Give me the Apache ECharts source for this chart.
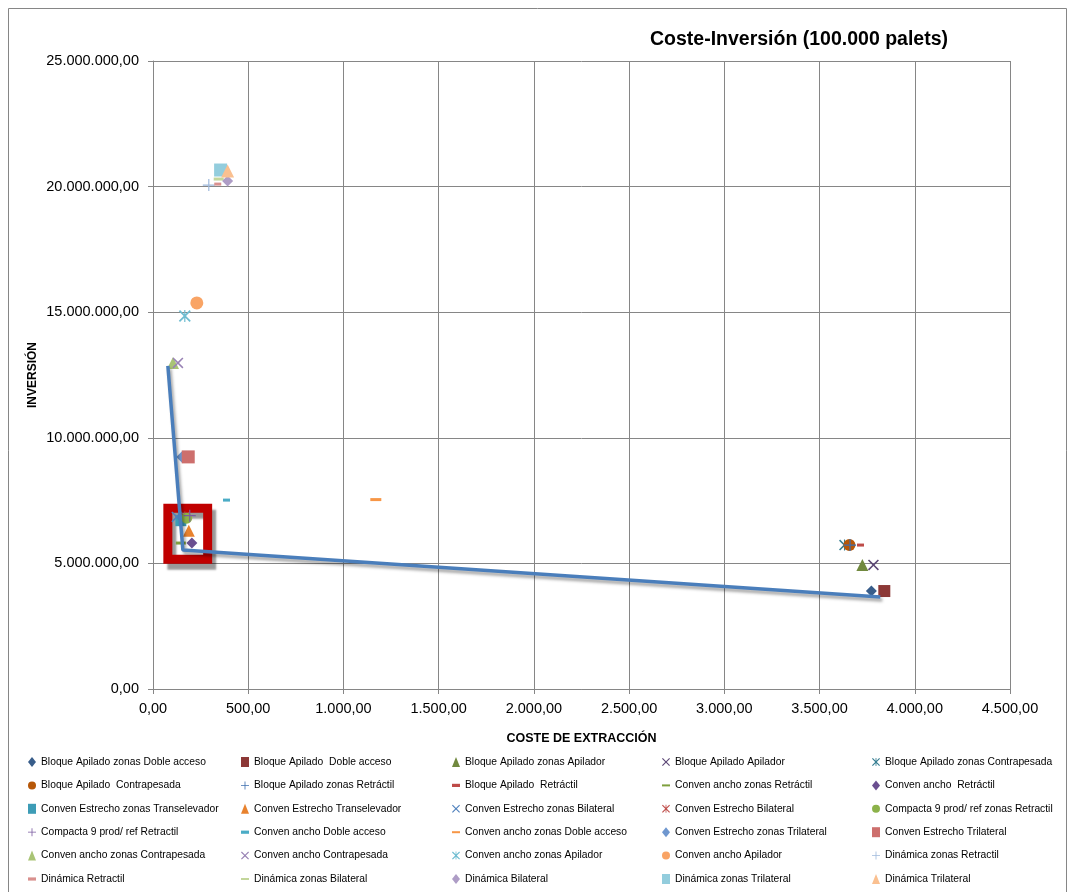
<!DOCTYPE html>
<html>
<head>
<meta charset="utf-8">
<title>Coste-Inversión (100.000 palets)</title>
<script src="https://cdn.jsdelivr.net/npm/echarts@6/dist/echarts.min.js"></script>
<style>
  html, body { margin: 0; padding: 0; background: #ffffff; }
  #chart { width: 1069px; height: 892px; }
</style>
</head>
<body>
<div id="chart"></div>
<script>
// ---- data ----
const seriesNames = [
  'Bloque Apilado zonas Doble acceso', 'Bloque Apilado  Doble acceso', 'Bloque Apilado zonas Apilador',
  'Bloque Apilado Apilador', 'Bloque Apilado zonas Contrapesada', 'Bloque Apilado  Contrapesada',
  'Bloque Apilado zonas Retráctil', 'Bloque Apilado  Retráctil', 'Conven ancho zonas Retráctil',
  'Conven ancho  Retráctil', 'Conven Estrecho zonas Transelevador', 'Conven Estrecho Transelevador',
  'Conven Estrecho zonas Bilateral', 'Conven Estrecho Bilateral', 'Compacta 9 prod/ ref zonas Retractil',
  'Compacta 9 prod/ ref Retractil', 'Conven ancho Doble acceso', 'Conven ancho zonas Doble acceso',
  'Conven Estrecho zonas Trilateral', 'Conven Estrecho Trilateral', 'Conven ancho zonas Contrapesada',
  'Conven ancho Contrapesada', 'Conven ancho zonas Apilador', 'Conven ancho Apilador',
  'Dinámica zonas Retractil', 'Dinámica Retractil', 'Dinámica zonas Bilateral',
  'Dinámica Bilateral', 'Dinámica zonas Trilateral', 'Dinámica Trilateral'
];
// coste de extracción per series
const costeExtraccion = [
  3772, 3840, 3725, 3783, 3631, 3657, 3660, 3715, 146, 204,
  146, 188, 125, 167, 177, 193, 386, 1170, 151, 185,
  105, 131, 167, 230, 293, 340, 345, 392, 355, 392
];
// inversión per series
const inversion = [
  3900000, 3900000, 4940000, 4940000, 5730000, 5730000, 5730000, 5730000, 5810000, 5810000,
  6700000, 6300000, 6850000, 6850000, 6800000, 6900000, 7520000, 7540000, 9240000, 9240000,
  12980000, 12980000, 14850000, 15370000, 20060000, 20100000, 20300000, 20220000, 20660000, 20620000
];
// trend line through the point cloud
const trendX = [78, 157, 3819];
const trendY = [12860000, 5530000, 3660000];
// highlighted region (x range, y range)
const boxX = [78, 287];
const boxY = [5170000, 7200000];
// axis ticks
const xTicks = [0, 500, 1000, 1500, 2000, 2500, 3000, 3500, 4000, 4500];
const yTicks = [0, 5000000, 10000000, 15000000, 20000000, 25000000];

// ---- marker shapes ----
const P_X = 'path://M2,0L10,8L18,0L20,2L12,10L20,18L18,20L10,12L2,20L0,18L8,10L0,2Z';
const P_STAR = 'path://M2,0L10,8L18,0L20,2L12,10L20,18L18,20L10,12L2,20L0,18L8,10L0,2Z M9,0H11V20H9Z';
const P_PLUS = 'path://M9,0H11V9H20V11H11V20H9V11H0V9H9Z';
const P_DASH = 'path://M0,0H10V4H0Z';
const P_LDASH = 'path://M0,0H16V4H0Z';

const markerStyles = [
  ['diamond', 11, '#385D8A'], ['rect', 12, '#8C3836'], ['triangle', 12, '#71893F'],
  [P_X, 11, '#5C4776'], [P_STAR, 11, '#357D91'], ['circle', 12, '#B65708'],
  [P_PLUS, 12, '#3E6FAE'], [P_DASH, [7, 3], '#BE4B48'], [P_LDASH, [10, 3], '#7FA03E'],
  ['diamond', 11, '#6B4F90'], ['rect', 11, '#3D9CB6'], ['triangle', 12, '#E8822E'],
  [P_X, 11, '#4F81BD'], [P_STAR, 11, '#C0504D'], ['circle', 11, '#8CB24A'],
  [P_PLUS, 12, '#7A5BA0'], [P_DASH, [7, 3], '#4BACC6'], [P_LDASH, [11, 3], '#F79646'],
  ['diamond', 11, '#6F97CF'], ['rect', 13, '#CD6F6D'], ['triangle', 12, '#A9C475'],
  [P_X, 11, '#9983B5'], [P_STAR, 12, '#6FBDD1'], ['circle', 13, '#F9A465'],
  [P_PLUS, 12, '#9FB9DC'], [P_DASH, [7, 3], '#D9908E'], [P_LDASH, [10, 3], '#C3D69B'],
  ['diamond', 11, '#AE9DC6'], ['rect', 13, '#93CDDD'], ['triangle', 13, '#FAC090']
];

function fmtEs(v) {
  const s = Math.round(v).toString().replace(/\B(?=(\d{3})+(?!\d))/g, '.');
  return s + ',00';
}

const FONT = 'Liberation Sans';

const scatterSeries = seriesNames.map((name, i) => ({
  name: name,
  type: 'scatter',
  symbol: markerStyles[i][0],
  symbolSize: markerStyles[i][1],
  symbolKeepAspect: false,
  itemStyle: { color: markerStyles[i][2], opacity: 1 },
  emphasis: { disabled: true },
  data: [[costeExtraccion[i], inversion[i]]],
  z: 3
}));

const trendSeries = {
  name: 'tendencia',
  type: 'line',
  data: trendX.map((x, i) => [x, trendY[i]]),
  symbol: 'none',
  lineStyle: {
    color: '#4A7EBB', width: 3.5,
    shadowColor: 'rgba(0,0,0,0.35)', shadowBlur: 3, shadowOffsetX: 2, shadowOffsetY: 3
  },
  z: 4,
  silent: true,
  markArea: {
    silent: true,
    itemStyle: {
      color: 'rgba(0,0,0,0)',
      borderColor: '#C00000',
      borderWidth: 9,
      shadowColor: 'rgba(0,0,0,0.4)',
      shadowBlur: 2,
      shadowOffsetX: 4,
      shadowOffsetY: 6
    },
    data: [[{ coord: [boxX[0], boxY[1]] }, { coord: [boxX[1], boxY[0]] }]]
  }
};

// legend: five columns, entries laid out row by row
const colLefts = [28, 241, 452, 662, 872];
const legends = colLefts.map((left, c) => ({
  orient: 'vertical',
  left: left,
  top: 757,
  itemWidth: 8,
  itemHeight: 10,
  itemGap: 13.4,
  symbolKeepAspect: true,
  selectedMode: false,
  padding: 0,
  textStyle: { fontFamily: FONT, fontSize: 10.3, color: '#000000', lineHeight: 10 },
  data: seriesNames.filter((_, i) => i % 5 === c)
}));

const chart = echarts.init(document.getElementById('chart'), null, { renderer: 'canvas' });
chart.setOption({
  animation: false,
  backgroundColor: '#ffffff',
  title: {
    text: 'Coste-Inversión (100.000 palets)',
    left: 650,
    top: 30,
    padding: 0,
    textStyle: { fontFamily: FONT, fontSize: 19.5, fontWeight: 'bold', color: '#000000' }
  },
  graphic: [{
    type: 'rect',
    shape: { x: 8.5, y: 8.5, width: 1058, height: 900 },
    style: { fill: 'none', stroke: '#868686', lineWidth: 1 },
    silent: true,
    z: -1
  }],
  grid: { left: 153, right: 59, top: 61, bottom: 203 },
  legend: legends,
  xAxis: {
    type: 'value',
    min: xTicks[0],
    max: xTicks[xTicks.length - 1],
    interval: xTicks[1] - xTicks[0],
    name: 'COSTE DE EXTRACCIÓN',
    nameLocation: 'middle',
    nameGap: 43,
    nameMoveOverlap: false,
    nameTextStyle: { fontFamily: FONT, fontSize: 12.5, fontWeight: 'bold', color: '#000000' },
    axisLine: { show: true, lineStyle: { color: '#868686', width: 1 } },
    axisTick: { show: true, inside: false, length: 5, lineStyle: { color: '#868686' } },
    axisLabel: { fontFamily: FONT, fontSize: 14.5, color: '#000000', margin: 12, formatter: fmtEs },
    splitLine: { show: true, lineStyle: { color: '#868686', width: 1 } }
  },
  yAxis: {
    type: 'value',
    min: yTicks[0],
    max: yTicks[yTicks.length - 1],
    interval: yTicks[1] - yTicks[0],
    name: 'INVERSIÓN',
    nameLocation: 'middle',
    nameRotate: 90,
    nameGap: 114,
    nameMoveOverlap: false,
    nameTextStyle: { fontFamily: FONT, fontSize: 12, fontWeight: 'bold', color: '#000000' },
    axisLine: { show: true, lineStyle: { color: '#868686', width: 1 } },
    axisTick: { show: true, inside: false, length: 5, lineStyle: { color: '#868686' } },
    axisLabel: { fontFamily: FONT, fontSize: 14.5, color: '#000000', margin: 14, formatter: fmtEs },
    splitLine: { show: true, lineStyle: { color: '#868686', width: 1 } }
  },
  series: scatterSeries.concat([trendSeries])
});
</script>
</body>
</html>
